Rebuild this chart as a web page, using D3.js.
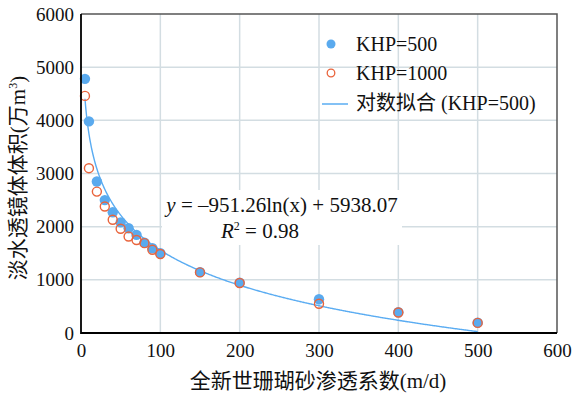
<!DOCTYPE html>
<html>
<head>
<meta charset="utf-8">
<script src="https://cdn.jsdelivr.net/npm/d3@7"></script>
<style>
  body { margin: 0; background: #fff; }
  svg { display: block; }
  .serif { font-family: "Liberation Serif", Tinos, "Times New Roman", Times, "DejaVu Serif", serif; }
  .cjk { font-family: "Liberation Serif", Tinos, "Times New Roman", "Noto Sans CJK SC", serif; }
</style>
</head>
<body>
<svg id="chart" width="583" height="396"></svg>
<script>
// permeability (m/d)
const permeability = [5, 10, 20, 30, 40, 50, 60, 70, 80, 90, 100, 150, 200, 300, 400, 500];

// lens volume (10^4 m3)
const khp500  = [4780, 3980, 2850, 2500, 2270, 2080, 1970, 1845, 1700, 1595, 1500, 1145, 945, 635, 390, 195];
const khp1000 = [4460, 3100, 2660, 2380, 2130, 1960, 1815, 1750, 1690, 1565, 1485, 1140, 940, 550, 385, 190];

const xTicks = [0, 100, 200, 300, 400, 500, 600];
const yTicks = [0, 1000, 2000, 3000, 4000, 5000, 6000];

const fit = { a: -951.26, b: 5938.07, from: 5, to: 500 };

const option =
  {
    box: { left: 81, top: 14, right: 557, bottom: 333 },
    font: { size: 19, big: 21, color: '#111' },
    grid: '#d3dde2',
    blue: '#5aaaee',
    orange: '#e9643c',
    line: '#5aacf2'
  };

const svg = d3.select('#chart');

const x = d3.scaleLinear().domain([0, 600]).range([option.box.left, option.box.right]);
const y = d3.scaleLinear().domain([0, 6000]).range([option.box.bottom, option.box.top]);

// grid
svg.append('g')
  .selectAll('line')
  .data(xTicks.slice(1, -1))
  .join('line')
    .attr('x1', d => x(d))
    .attr('x2', d => x(d))
    .attr('y1', option.box.top)
    .attr('y2', option.box.bottom)
    .attr('stroke', option.grid)
    .attr('stroke-width', 1.5)
;

svg.append('g')
  .selectAll('line')
  .data(yTicks.slice(1, -1))
  .join('line')
    .attr('x1', option.box.left)
    .attr('x2', option.box.right)
    .attr('y1', d => y(d))
    .attr('y2', d => y(d))
    .attr('stroke', option.grid)
    .attr('stroke-width', 1.5)
;

// fitted log curve
const curve = d3.range(fit.from, fit.to + 0.5, 1).map(v => [v, fit.a * Math.log(v) + fit.b]);

svg.append('path')
  .datum(curve)
  .attr('d', d3.line().x(d => x(d[0])).y(d => y(d[1])))
  .attr('fill', 'none')
  .attr('stroke', option.line)
  .attr('stroke-width', 1.4)
;

// points
svg.append('g')
  .selectAll('circle')
  .data(permeability.map((k, i) => [k, khp500[i]]))
  .join('circle')
    .attr('cx', d => x(d[0]))
    .attr('cy', d => y(d[1]))
    .attr('r', 5.2)
    .attr('fill', option.blue)
;

svg.append('g')
  .selectAll('circle')
  .data(permeability.map((k, i) => [k, khp1000[i]]))
  .join('circle')
    .attr('cx', d => x(d[0]))
    .attr('cy', d => y(d[1]))
    .attr('r', 4.5)
    .attr('fill', 'none')
    .attr('stroke', option.orange)
    .attr('stroke-width', 1.4)
;

// equation box
svg.append('rect')
  .attr('x', 162)
  .attr('y', 190)
  .attr('width', 240)
  .attr('height', 55)
  .attr('fill', '#fff')
;

const eq = svg.append('text')
  .attr('class', 'serif')
  .attr('x', 282)
  .attr('y', 212)
  .attr('text-anchor', 'middle')
  .attr('font-size', option.font.big)
  .attr('fill', option.font.color)
;
eq.append('tspan').attr('font-style', 'italic').text('y');
eq.append('tspan').text(' = \u2013951.26ln(x) + 5938.07');

const r2 = svg.append('text')
  .attr('class', 'serif')
  .attr('x', 260)
  .attr('y', 238)
  .attr('text-anchor', 'middle')
  .attr('font-size', option.font.big)
  .attr('fill', option.font.color)
;
r2.append('tspan').attr('font-style', 'italic').text('R');
r2.append('tspan').attr('font-size', 12).attr('dy', -8).text('2');
r2.append('tspan').attr('dy', 8).text(' = 0.98');

// frame
svg.append('path')
  .attr('d', `M${ option.box.left },${ option.box.top }H${ option.box.right }V${ option.box.bottom }`)
  .attr('fill', 'none')
  .attr('stroke', '#555')
  .attr('stroke-width', 1.5)
;

svg.append('path')
  .attr('d', `M${ option.box.left },${ option.box.top }V${ option.box.bottom }H${ option.box.right }`)
  .attr('fill', 'none')
  .attr('stroke', '#000')
  .attr('stroke-width', 1.8)
;

// axes
const xAxis = svg.append('g')
  .attr('transform', `translate(0 ${ option.box.bottom + 8 })`)
  .call(d3.axisBottom(x).tickValues(xTicks).tickSize(0).tickPadding(0).tickFormat(d3.format('d')))
;

const yAxis = svg.append('g')
  .attr('transform', `translate(${ option.box.left - 7 } 0)`)
  .call(d3.axisLeft(y).tickValues(yTicks).tickSize(0).tickPadding(0).tickFormat(d3.format('d')))
;

[xAxis, yAxis].forEach(a =>
{
  a.attr('font-family', null).attr('font-size', null);
  a.select('.domain').remove();
  a.selectAll('text')
    .attr('class', 'serif')
    .attr('font-size', option.font.size)
    .attr('fill', option.font.color)
  ;
});

xAxis.selectAll('text').attr('dy', '0.85em');

// axis titles
svg.append('text')
  .attr('class', 'cjk')
  .attr('x', 318)
  .attr('y', 388)
  .attr('text-anchor', 'middle')
  .attr('font-size', option.font.big)
  .attr('fill', option.font.color)
  .text('全新世珊瑚砂渗透系数(m/d)')
;

const yTitle = svg.append('text')
  .attr('class', 'cjk')
  .attr('transform', 'translate(25 178) rotate(-90)')
  .attr('text-anchor', 'middle')
  .attr('font-size', option.font.big)
  .attr('fill', option.font.color)
;
yTitle.append('tspan').text('淡水透镜体体积(万m');
yTitle.append('tspan').attr('font-size', 12).attr('dy', -8).text('3');
yTitle.append('tspan').attr('dy', 8).text(')');

// legend
const legend = svg.append('g')
  .attr('class', 'cjk')
  .attr('font-size', 20)
  .attr('fill', option.font.color)
;

legend.append('circle').attr('cx', 331).attr('cy', 44).attr('r', 4.5).attr('fill', option.blue);
legend.append('text').attr('x', 356).attr('y', 51).text('KHP=500');

legend.append('circle').attr('cx', 331).attr('cy', 73).attr('r', 3.8).attr('fill', 'none').attr('stroke', option.orange).attr('stroke-width', 1.3);
legend.append('text').attr('x', 356).attr('y', 80).text('KHP=1000');

legend.append('line').attr('x1', 322).attr('x2', 348).attr('y1', 104).attr('y2', 104).attr('stroke', option.line).attr('stroke-width', 1.5);
legend.append('text').attr('x', 356).attr('y', 110).text('对数拟合 (KHP=500)');
</script>
</body>
</html>
